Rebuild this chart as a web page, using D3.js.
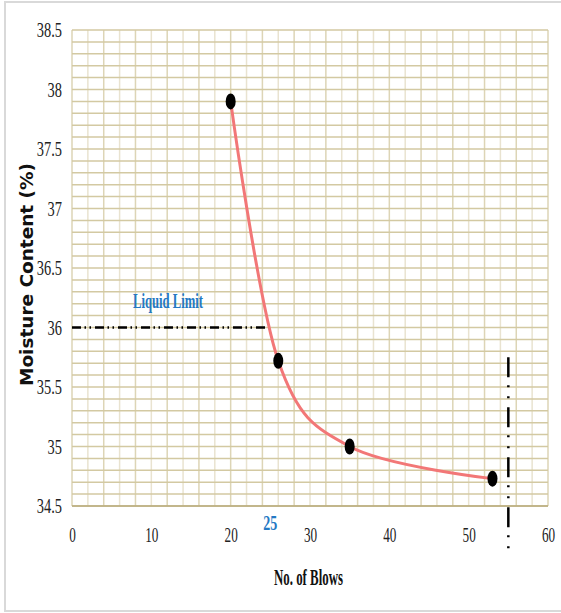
<!DOCTYPE html>
<html>
<head>
<meta charset="utf-8">
<script src="https://cdn.jsdelivr.net/npm/d3@7"></script>
<style>
  html, body { margin: 0; padding: 0; background: #fff; }
  svg { display: block; }
</style>
</head>
<body>
<svg id="chart" width="561" height="613"></svg>
<script>
// Liquid limit test: moisture content against number of blows
const blows = [20, 26, 35, 53];
const moisture = [37.9, 35.72, 35.0, 34.73];

const xTicks = [0, 10, 20, 30, 40, 50, 60];
const yTicks = [34.5, 35, 35.5, 36, 36.5, 37, 37.5, 38, 38.5];

const liquidLimitBlows = 25;
const liquidLimitMoisture = 36;
const markerLineBlows = 55;
const markerLineRange = [35.75, 34.1];

const xDomain = [0, 60];
const yDomain = [34.5, 38.5];

const svg = d3.select("#chart");
const W = 561, H = 613;
const margin = { left: 72, right: 13, top: 30, bottom: 107 };

const x = d3.scaleLinear().domain(xDomain).range([margin.left, W - margin.right]);
const y = d3.scaleLinear().domain(yDomain).range([H - margin.bottom, margin.top]);

// outer frame
svg.append("path")
  .attr("d", `M${W + 5},2 H5 V611 H${W + 5}`)
  .attr("fill", "none")
  .attr("stroke", "#d9d9d9")
  .attr("stroke-width", 2);

// grid
const grid = svg.append("g");
const vGrid = d3.range(xDomain[0], xDomain[1] + 0.001, 2);
const hGrid = d3.range(0, 41).map(i => +(yDomain[0] + i * 0.1).toFixed(2));

grid.selectAll("line.v").data(vGrid).join("line")
  .attr("class", "v")
  .attr("x1", d => x(d)).attr("x2", d => x(d))
  .attr("y1", y(yDomain[0])).attr("y2", y(yDomain[1]))
  .attr("stroke", (d, i) => i % 2 ? "#e9e3d0" : "#ddd5b6")
  .attr("stroke-width", 1.5);

grid.selectAll("line.h").data(hGrid).join("line")
  .attr("class", "h")
  .attr("x1", x(xDomain[0])).attr("x2", x(xDomain[1]))
  .attr("y1", d => y(d)).attr("y2", d => y(d))
  .attr("stroke", "#d3c9a2")
  .attr("stroke-width", 1.5);

// bottom axis line
svg.append("line")
  .attr("x1", x(xDomain[0])).attr("x2", x(xDomain[1]))
  .attr("y1", y(yDomain[0])).attr("y2", y(yDomain[0]))
  .attr("stroke", "#b9ab7c").attr("stroke-width", 1.5);

// x axis labels
const xs = 0.6;
const xAxis = svg.append("g")
  .attr("transform", `translate(0,${y(yDomain[0])})`)
  .call(d3.axisBottom(x).tickValues(xTicks).tickSize(0).tickFormat(d3.format("d")));
xAxis.select(".domain").remove();
xAxis.selectAll("text")
  .attr("y", 36).attr("dy", null)
  .attr("transform", `scale(${xs},1)`)
  .attr("font-family", "'Liberation Serif', 'Times New Roman', serif")
  .attr("font-size", 22)
  .attr("fill", "#222");

// y axis labels
const ys = 0.72;
const yAxis = svg.append("g")
  .attr("transform", `translate(${x(xDomain[0])},0)`)
  .call(d3.axisLeft(y).tickValues(yTicks).tickSize(0).tickFormat(d => String(d)));
yAxis.select(".domain").remove();
yAxis.selectAll("text")
  .attr("x", -10 / ys).attr("dy", "0.34em")
  .attr("transform", `scale(${ys},1)`)
  .attr("font-family", "'Liberation Serif', 'Times New Roman', serif")
  .attr("font-size", 20)
  .attr("fill", "#222");

// liquid limit guide (horizontal)
svg.append("line")
  .attr("x1", x(xDomain[0])).attr("x2", x(liquidLimitBlows))
  .attr("y1", y(liquidLimitMoisture)).attr("y2", y(liquidLimitMoisture))
  .attr("stroke", "#000").attr("stroke-width", 2.5)
  .attr("stroke-dasharray", "9,3.5,1.5,3.5,1.5,4");

// vertical dash-dot guide
svg.append("line")
  .attr("x1", x(markerLineBlows)).attr("x2", x(markerLineBlows))
  .attr("y1", y(markerLineRange[0])).attr("y2", y(markerLineRange[1]))
  .attr("stroke", "#000").attr("stroke-width", 2.5)
  .attr("stroke-dasharray", "20,8,2,9,2,9");

// flow curve
const pts = blows.map((b, i) => [b, moisture[i]]);
const line = d3.line()
  .x(d => x(d[0])).y(d => y(d[1]))
  .curve(d3.curveCardinal.tension(0));
svg.append("path")
  .datum(pts)
  .attr("d", line)
  .attr("fill", "none")
  .attr("stroke", "#f27777")
  .attr("stroke-width", 3)
  .attr("stroke-linecap", "round");

// markers
svg.selectAll("ellipse.pt").data(pts).join("ellipse")
  .attr("class", "pt")
  .attr("cx", d => x(d[0])).attr("cy", d => y(d[1]))
  .attr("rx", 5).attr("ry", 8)
  .attr("fill", "#000");

// annotations
svg.append("text")
  .attr("x", x(12.1)).attr("y", y(liquidLimitMoisture) - 20)
  .attr("text-anchor", "middle")
  .attr("textLength", 70).attr("lengthAdjust", "spacingAndGlyphs")
  .attr("font-family", "'Liberation Serif', 'Times New Roman', serif")
  .attr("font-weight", "bold").attr("font-size", 20)
  .attr("fill", "#2479c4")
  .text("Liquid Limit");

svg.append("text")
  .attr("x", x(liquidLimitBlows)).attr("y", y(yDomain[0]) + 24)
  .attr("text-anchor", "middle")
  .attr("textLength", 14).attr("lengthAdjust", "spacingAndGlyphs")
  .attr("font-family", "'Liberation Serif', 'Times New Roman', serif")
  .attr("font-weight", "bold").attr("font-size", 21)
  .attr("fill", "#2479c4")
  .text(String(liquidLimitBlows));

// axis titles
svg.append("text")
  .attr("x", (x(xDomain[0]) + x(xDomain[1])) / 2 - 1.5).attr("y", 585)
  .attr("text-anchor", "middle")
  .attr("textLength", 69).attr("lengthAdjust", "spacingAndGlyphs")
  .attr("font-family", "'Liberation Serif', 'Times New Roman', serif")
  .attr("font-weight", "bold").attr("font-size", 23)
  .attr("fill", "#111")
  .text("No. of Blows");

svg.append("text")
  .attr("transform", "translate(33,274.5) rotate(-90)")
  .attr("text-anchor", "middle")
  .attr("textLength", 223).attr("lengthAdjust", "spacingAndGlyphs")
  .attr("font-family", "'DejaVu Sans', Verdana, sans-serif")
  .attr("font-weight", "bold").attr("font-size", 18)
  .attr("fill", "#111")
  .text("Moisture Content (%)");
</script>
</body>
</html>
